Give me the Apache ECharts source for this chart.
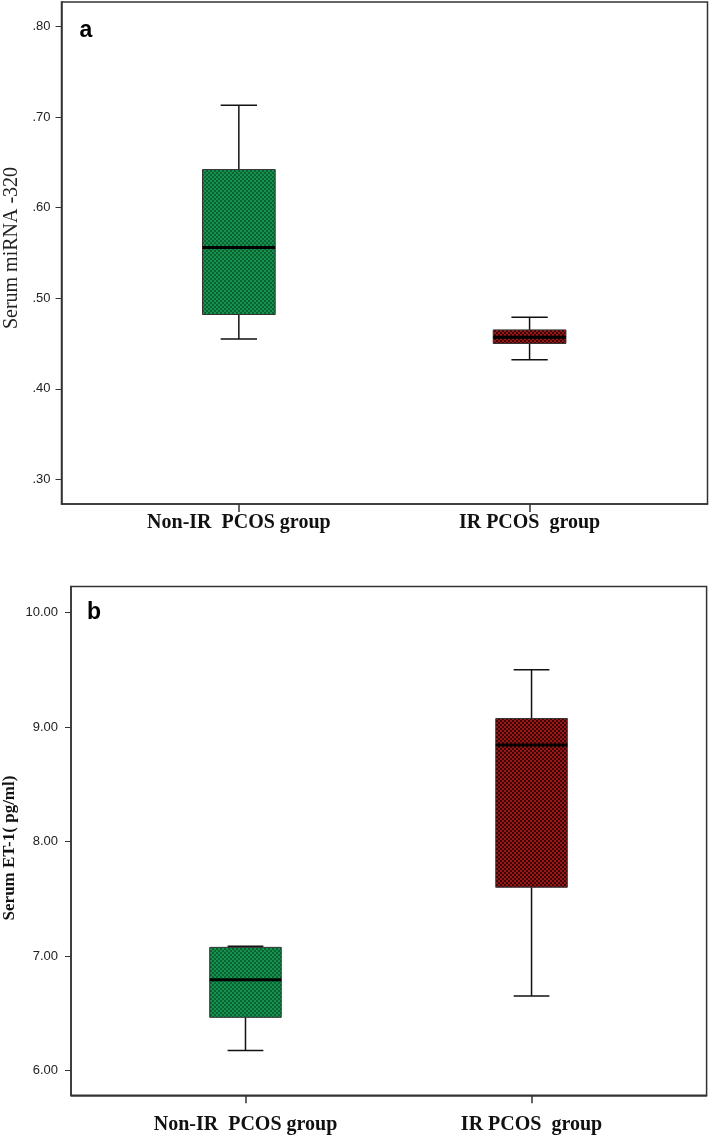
<!DOCTYPE html>
<html>
<head>
<meta charset="utf-8">
<script src="https://cdn.jsdelivr.net/npm/echarts@6/dist/echarts.min.js"></script>
<style>
html,body{margin:0;padding:0;background:#fff;}
#main{width:709px;height:1139px;}
</style>
</head>
<body>
<div id="main"></div>
<script>
// ---- data ----
const categories = ['Non-IR  PCOS group', 'IR PCOS  group'];
// [low whisker, Q1, median, Q3, high whisker]
const miRNA_nonIR = [0.455, 0.482, 0.556, 0.642, 0.713];
const miRNA_IR    = [0.432, 0.450, 0.457, 0.465, 0.479];
const et1_nonIR   = [6.174, 6.464, 6.793, 7.075, 7.085];
const et1_IR      = [6.651, 7.600, 8.842, 9.074, 9.500];
const ticksA = [0.30, 0.40, 0.50, 0.60, 0.70, 0.80];
const ticksB = [6, 7, 8, 9, 10];

// ---- textures ----
function makePattern(c1, c2, size) {
  const cv = document.createElement('canvas');
  cv.width = size * 2; cv.height = size * 2;
  const ctx = cv.getContext('2d');
  ctx.fillStyle = c1; ctx.fillRect(0, 0, size * 2, size * 2);
  ctx.fillStyle = c2;
  ctx.fillRect(0, 0, size, size);
  ctx.fillRect(size, size, size, size);
  return { image: cv, repeat: 'repeat' };
}
const greenFill = makePattern('#14924e', '#0b6232', 2);
const redFill = makePattern('#9a1717', '#3a0606', 2);

const BOXW = 0.25;

function boxRender(fill) {
  return function (params, api) {
    const x = api.value(0);
    const lo = api.value(1), q1 = api.value(2), med = api.value(3), q3 = api.value(4), hi = api.value(5);
    const w = api.size([BOXW, 0])[0];
    const pLo = api.coord([x, lo]), pQ1 = api.coord([x, q1]), pMed = api.coord([x, med]);
    const pQ3 = api.coord([x, q3]), pHi = api.coord([x, hi]);
    const cx = pMed[0];
    const cap = w / 4;
    const lineStyle = { stroke: '#111', lineWidth: 1.5 };
    return {
      type: 'group',
      children: [
        { type: 'line', shape: { x1: cx, y1: pHi[1], x2: cx, y2: pQ3[1] }, style: lineStyle },
        { type: 'line', shape: { x1: cx, y1: pLo[1], x2: cx, y2: pQ1[1] }, style: lineStyle },
        { type: 'line', shape: { x1: cx - cap, y1: pHi[1], x2: cx + cap, y2: pHi[1] }, style: lineStyle },
        { type: 'line', shape: { x1: cx - cap, y1: pLo[1], x2: cx + cap, y2: pLo[1] }, style: lineStyle },
        { type: 'rect', shape: { x: cx - w / 2, y: pQ3[1], width: w, height: pQ1[1] - pQ3[1] },
          style: { fill: fill, stroke: '#333', lineWidth: 1 } },
        { type: 'line', shape: { x1: cx - w / 2, y1: pMed[1], x2: cx + w / 2, y2: pMed[1] },
          style: { stroke: '#000', lineWidth: 3 } }
      ]
    };
  };
}

const tickFont = { fontFamily: '"Liberation Sans Narrow", "Liberation Sans", Arial, sans-serif', fontSize: 13, color: '#222' };
const catFont = { fontFamily: '"Liberation Serif", "Times New Roman", serif', fontSize: 20, fontWeight: 'bold', color: '#111' };

function xAxisDef(gridIndex, margin) {
  return {
    type: 'value', gridIndex: gridIndex, min: 0.39, max: 2.612,
    splitLine: { show: false },
    axisLine: { show: true, onZero: false, lineStyle: { color: '#333', width: 1.5 } },
    axisTick: { show: true, length: 8, customValues: [1, 2], lineStyle: { color: '#333', width: 1.5 } },
    axisLabel: Object.assign({ customValues: [1, 2], margin: margin,
      formatter: v => categories[Math.round(v) - 1] || '' }, catFont)
  };
}

const option = {
  animation: false,
  backgroundColor: '#fff',
  grid: [
    { left: 61.5, top: 2, right: 1.5, bottom: 635, show: true, borderColor: '#333', borderWidth: 1.5, containLabel: false },
    { left: 71, top: 586.6, right: 2.4, bottom: 43.7, show: true, borderColor: '#333', borderWidth: 1.5, containLabel: false }
  ],
  xAxis: [xAxisDef(0, 9), xAxisDef(1, 20)],
  yAxis: [
    {
      type: 'value', gridIndex: 0, min: 0.2728, max: 0.827,
      splitLine: { show: false },
      axisLine: { show: true, lineStyle: { color: '#333', width: 1.5 } },
      axisTick: { show: true, length: 6, customValues: ticksA, lineStyle: { color: '#333' } },
      axisLabel: Object.assign({ customValues: ticksA, margin: 11,
        formatter: v => v.toFixed(2).replace(/^0/, '') }, tickFont)
    },
    {
      type: 'value', gridIndex: 1, min: 5.783, max: 10.226,
      splitLine: { show: false },
      axisLine: { show: true, lineStyle: { color: '#333', width: 1.5 } },
      axisTick: { show: true, length: 6, customValues: ticksB, lineStyle: { color: '#333' } },
      axisLabel: Object.assign({ customValues: ticksB, margin: 13,
        formatter: v => v.toFixed(2) }, tickFont)
    }
  ],
  graphic: [
    { type: 'text', x: 86, y: 31, style: { text: 'a', font: 'bold 23px "Liberation Sans", Arial, sans-serif', fill: '#000', align: 'center', verticalAlign: 'middle' } },
    { type: 'text', x: 94, y: 613, style: { text: 'b', font: 'bold 23px "Liberation Sans", Arial, sans-serif', fill: '#000', align: 'center', verticalAlign: 'middle' } },
    { type: 'text', x: 12, y: 248, rotation: Math.PI / 2, style: { text: 'Serum miRNA -320', font: '20px "Liberation Serif", "Times New Roman", serif', fill: '#222', align: 'center', verticalAlign: 'middle' } },
    { type: 'text', x: 10, y: 848, rotation: Math.PI / 2, style: { text: 'Serum ET-1( pg/ml)', font: 'bold 17px "Liberation Serif", "Times New Roman", serif', fill: '#111', align: 'center', verticalAlign: 'middle' } }
  ],
  series: [
    { type: 'custom', xAxisIndex: 0, yAxisIndex: 0, renderItem: boxRender(greenFill), data: [[1].concat(miRNA_nonIR)] },
    { type: 'custom', xAxisIndex: 0, yAxisIndex: 0, renderItem: boxRender(redFill), data: [[2].concat(miRNA_IR)] },
    { type: 'custom', xAxisIndex: 1, yAxisIndex: 1, renderItem: boxRender(greenFill), data: [[1].concat(et1_nonIR)] },
    { type: 'custom', xAxisIndex: 1, yAxisIndex: 1, renderItem: boxRender(redFill), data: [[2].concat(et1_IR)] }
  ]
};
const chart = echarts.init(document.getElementById('main'), null, { renderer: 'canvas' });
chart.setOption(option);
</script>
</body>
</html>
